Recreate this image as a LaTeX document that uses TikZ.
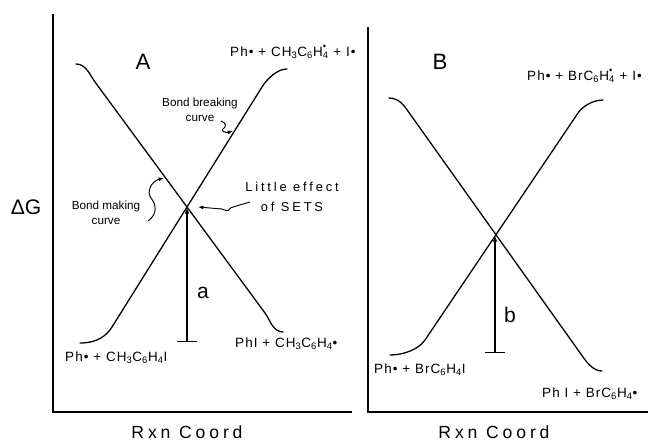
\documentclass[tikz,border=0pt]{standalone}
\usepackage{fontspec}
\setmainfont{Liberation Sans}
\newfontfamily\spacedfont[LetterSpace=8]{Liberation Sans}
\newfontfamily\widefont[LetterSpace=22]{Liberation Sans}
\usetikzlibrary{arrows.meta}
\newcommand{\rad}{\textbullet}
\newcommand{\ringH}{H\rlap{\raisebox{0.95ex}{\footnotesize\textbullet}}\textsubscript{4}}

\begin{document}
\begin{tikzpicture}[x=0.03cm, y=-0.03cm,
      curve/.style={line width=1.1pt, line cap=round},
      axis/.style={line width=1.1pt},
      lbl/.style={inner sep=0pt, font=\fontsize{19}{21}\selectfont},
      spec/.style={inner sep=0pt, anchor=base west, font=\spacedfont\fontsize{11.5}{13}\selectfont},
      note/.style={inner sep=0pt, align=center, font=\fontsize{10}{12.8}\selectfont},
      axlab/.style={inner sep=0pt, font=\widefont\fontsize{15}{17}\selectfont},
      gap/.style={{Bar[width=6mm]}-{Latex[length=2mm,width=1.4mm]}, line width=1.1pt},
      wiggle/.style={line width=0.8pt, -{Latex[length=1.6mm,width=1.2mm]}}]
    \useasboundingbox (0,0) rectangle (648,443);
    \draw[axis] (53,14) -- (53,412) -- (352,412);
    \draw[axis] (368,27) -- (368,412) -- (648,412);
    \draw[curve] (76,64) .. controls (86,64) and (90,75) .. (95,82) -- (265,313) .. controls (270,320) and (273,332) .. (283,332);
    \draw[curve] (80,343) .. controls (98,343) and (107,335) .. (112,327) -- (262,87) .. controls (267,79) and (277,69) .. (287,69);
    \draw[curve] (389,98) .. controls (400,98) and (405,107) .. (410,114) -- (583,357) .. controls (588,364) and (594,371) .. (602,371);
    \draw[curve] (390,355) .. controls (404,355) and (419,349) .. (425,340) -- (578,113) .. controls (583,106) and (593,100) .. (603,100);
    \coordinate (xA) at (187,207);
    \coordinate (teeA) at (187,342);
    \coordinate (xB) at (495,235);
    \coordinate (teeB) at (495,353);
    \coordinate (setsTip) at (198,207);
    \draw[gap] (teeA) -- (xA);
    \draw[gap] (teeB) -- (xB);
    \node[lbl] (labA) at (143,62) {A};
    \node[lbl] (labB) at (440,62) {B};
    \node[inner sep=0pt, font=\fontsize{18}{20}\selectfont] (dG) at (26,207) {ΔG};
    \node[inner sep=0pt, font=\fontsize{18}{20}\selectfont] (gapA) at (203,293) {a};
    \node[inner sep=0pt, font=\fontsize{18}{20}\selectfont] (gapB) at (510,315) {b};
    \node[axlab] (rxnA) at (187,432) {Rxn Coord};
    \node[axlab] (rxnB) at (494,432) {Rxn Coord};
    \node[spec] (topA) at (230,56) {Ph\rad{} + CH\textsubscript{3}C\textsubscript{6}\ringH{} + I\rad};
    \node[spec] (reacA) at (65,361) {Ph\rad{} + CH\textsubscript{3}C\textsubscript{6}H\textsubscript{4}I};
    \node[spec] (prodA) at (235,347) {PhI + CH\textsubscript{3}C\textsubscript{6}H\textsubscript{4}\rad};
    \node[spec] (topB) at (527,80) {Ph\rad{} + BrC\textsubscript{6}\ringH{} + I\rad};
    \node[spec] (reacB) at (374,373) {Ph\rad{} + BrC\textsubscript{6}H\textsubscript{4}I};
    \node[spec] (prodB) at (542,397) {Ph I + BrC\textsubscript{6}H\textsubscript{4}\rad};
    \node[note] (breakA) at (200,110) {Bond breaking\\curve};
    \node[note] (makeA) at (106,213) {Bond making\\curve};
    \node[inner sep=0pt, align=center, font=\widefont\fontsize{11}{17}\selectfont] (setsA) at (292,197) {Little effect\\of SETS};
    \draw[wiggle] (148,221) .. controls (158,214) and (156,204) .. (151,198) .. controls (146,191) and (152,181) .. (164,178);
    \draw[wiggle] (221,121) .. controls (227,123) and (226,127) .. (223,129) .. controls (220,131) and (226,133) .. (233,131);
    \draw[wiggle] (250,202) -- (233,207) .. controls (226,209) and (232,213) .. (222,209) -- (setsTip);
  \end{tikzpicture}
\end{document}
